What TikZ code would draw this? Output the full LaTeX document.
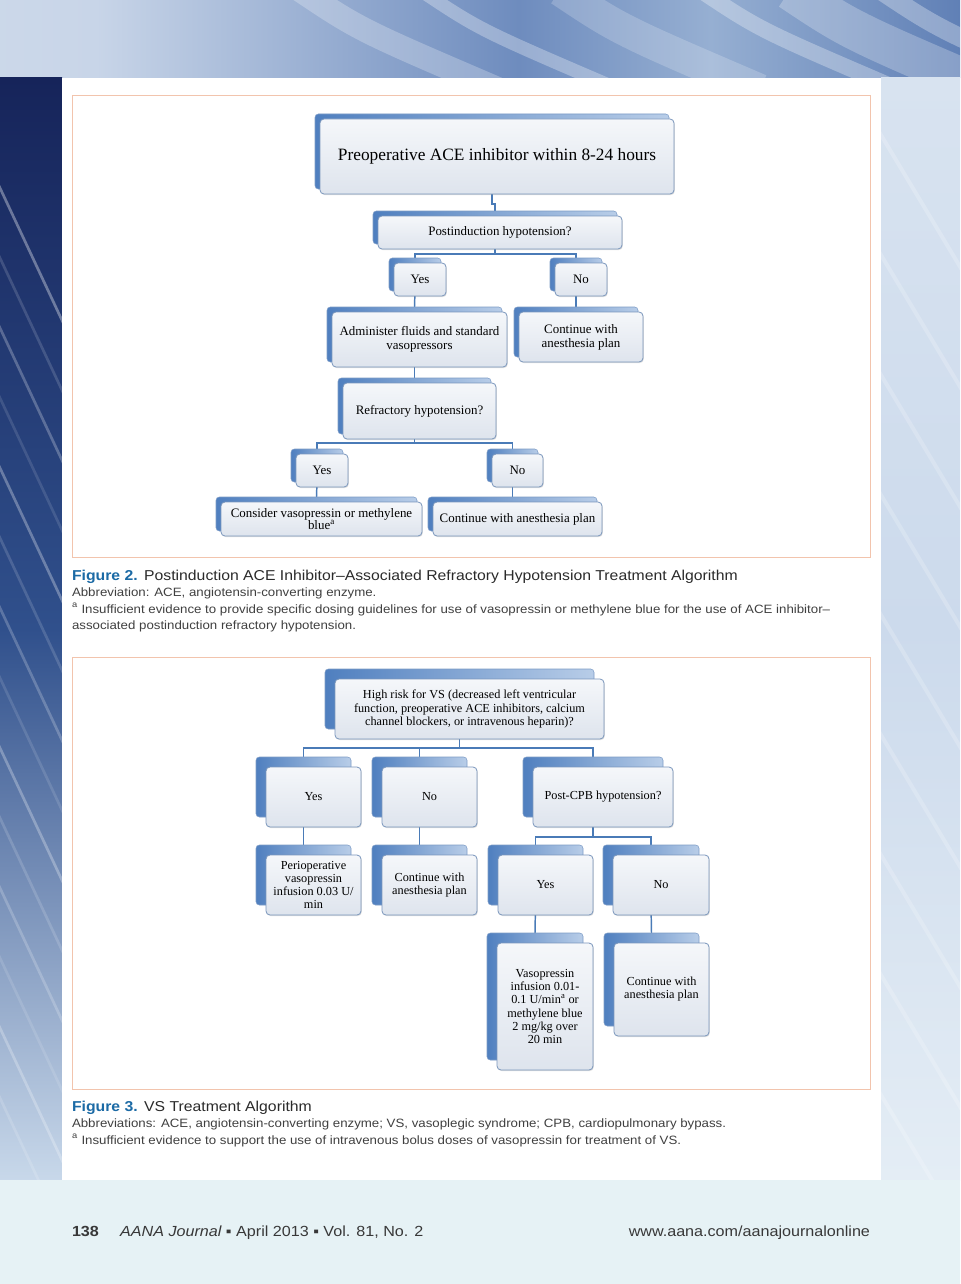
\documentclass[tikz,border=0pt]{standalone}
\usepackage{fontspec}
\setmainfont{Liberation Serif}
\newfontfamily\capsans[FakeStretch=1.1]{Liberation Sans}
\usetikzlibrary{shadows,calc}
\definecolor{connc}{HTML}{4A7BB7}
\definecolor{backL}{HTML}{4F7FBF}
\definecolor{backR}{HTML}{B8CDE8}
\definecolor{backD}{HTML}{7D9CC6}
\definecolor{frontT}{HTML}{F5F7FA}
\definecolor{frontB}{HTML}{DEE4ED}
\definecolor{frontD}{HTML}{7A96BC}
\definecolor{framec}{HTML}{F2C4AD}
\definecolor{figblue}{HTML}{1B6AA5}
\definecolor{captxt}{HTML}{2A2A2A}
\definecolor{smalltxt}{HTML}{404040}
\definecolor{foottxt}{HTML}{383838}
\definecolor{bgbase}{HTML}{D3E0EE}
\definecolor{bottomc}{HTML}{E6F2F5}
\definecolor{tbA}{HTML}{DCE5F0}
\definecolor{tbB}{HTML}{C8D5E8}
\definecolor{tbC}{HTML}{6E8CBE}
\definecolor{tbD}{HTML}{96AFD2}
\definecolor{tbE}{HTML}{6080B6}
\definecolor{tbF}{HTML}{AAC0DE}
\definecolor{tbG}{HTML}{D6E1EE}
\definecolor{lsA}{HTML}{16245A}
\definecolor{lsB}{HTML}{30508C}
\definecolor{lsC}{HTML}{C8D8EA}
\definecolor{rsA}{HTML}{D8E3F0}
\definecolor{rsB}{HTML}{CCDAEC}
\definecolor{rsC}{HTML}{E4EDF5}
\pgfdeclarehorizontalshading{topband}{100bp}{%
  color(0bp)=(tbA); color(30bp)=(tbB); color(52bp)=(tbC); color(62bp)=(tbD);
  color(75bp)=(tbE); color(88bp)=(tbF); color(100bp)=(tbG)}
\pgfdeclarelayer{pagebg}
\pgfdeclarelayer{conn}
\pgfsetlayers{pagebg,conn,main}
\newcommand\ftop{\fontsize{13}{14}\selectfont}
\newcommand\ftwo{\fontsize{9.7}{10.5}\selectfont}
\newcommand\fthree{\fontsize{9.2}{9.8}\selectfont}
\newcommand\stackbox[8]{%
  \node[backbox, minimum width={(#4-#2)*0.75pt}, minimum height={(#5-#3)*0.75pt}] (#1b) at ({(#2+#4)/2-#6},{(#3+#5)/2-#6}) {};
  \node[frontbox, #7, minimum width={(#4-#2)*0.75pt}, minimum height={(#5-#3)*0.75pt}] (#1) at ({(#2+#4)/2},{(#3+#5)/2}) {#8};
}
\tikzset{
  backbox/.style={rounded corners=2.5pt, left color=backL, right color=backR, draw=backD, line width=0.4pt, inner sep=0pt, outer sep=0pt},
  frontbox/.style={rounded corners=3pt, top color=frontT, bottom color=frontB, draw=frontD, line width=0.6pt, align=center, inner sep=1pt, outer sep=0pt, text=black, drop shadow={opacity=0.25, shadow xshift=0.6pt, shadow yshift=-0.8pt}},
  conn/.style={draw=connc, line width=1.1pt},
  capline/.style={anchor=base west, inner sep=0pt, outer sep=0pt, font=\capsans, text=captxt},
  smallline/.style={anchor=base west, inner sep=0pt, outer sep=0pt, font=\capsans\fontsize{9.05}{10}\selectfont, text=smalltxt},
  footline/.style={anchor=base west, inner sep=0pt, outer sep=0pt, font=\capsans\fontsize{11}{12}\selectfont, text=foottxt},
}
\begin{document}
\begin{tikzpicture}[x=0.75pt, y=-0.75pt]
\useasboundingbox (0,0) rectangle (960,1284);
% ---------- page background ----------
\begin{pgfonlayer}{pagebg}
\fill[bgbase] (0,0) rectangle (960,1284);
\shade[shading=topband] (0,0) rectangle (960,78);
\begin{scope}
\clip (0,0) rectangle (960,78);
\foreach \xa/\w/\o in {300/18/0.25,420/10/0.3,560/24/0.2,700/12/0.3,790/30/0.25,880/14/0.3}{
  \draw[white, opacity=\o, line width=\w pt] (\xa,-10) .. controls ({\xa+60},30) .. ({\xa+200},90);
}
\end{scope}
\shade[top color=lsA, bottom color=lsC, middle color=lsB] (0,78) rectangle (62,1180);
\begin{scope}
\clip (0,78) rectangle (62,1180);
\foreach \k/\o in {0/0.35,1/0.15,2/0.25,3/0.12,4/0.3,5/0.15,6/0.22,7/0.12,8/0.28,9/0.15,10/0.2,11/0.12,12/0.25,13/0.15}{
  \draw[white, opacity=\o, line width=2pt] ({-60},{60+\k*70}) -- ({90},{380+\k*70});
}
\end{scope}
\shade[top color=rsA, bottom color=rsC, middle color=rsB] (881,78) rectangle (960,1180);
\begin{scope}
\clip (881,78) rectangle (960,1180);
\foreach \k in {0,1,...,8}{
  \draw[white, opacity=0.2, line width=3pt] ({860},{100+\k*120}) -- ({980},{300+\k*120});
}
\end{scope}
\fill[bottomc] (0,1180) rectangle (960,1284);
\fill[white] (62,78) rectangle (881,1180);
\draw[framec, line width=0.7pt] (72,95) rectangle (870,557);
\draw[framec, line width=0.7pt] (72,657) rectangle (870,1089);
\end{pgfonlayer}
% ---------- Figure 2 boxes ----------
\stackbox{A}{320}{119}{674}{194}{5}{font=\ftop}{\raisebox{-2pt}{Preoperative ACE inhibitor within 8-24 hours}}
\stackbox{B}{378}{216}{622}{249}{5}{font=\ftwo}{Postinduction hypotension?}
\stackbox{Ya}{394}{263}{446}{296}{5}{font=\ftwo}{Yes}
\stackbox{Na}{555}{263}{607}{296}{5}{font=\ftwo}{No}
\stackbox{Adm}{332}{312}{507}{367}{5}{font=\ftwo}{Administer fluids and standard\\vasopressors}
\stackbox{Ca}{519}{312}{643}{362}{5}{font=\ftwo}{Continue with\\anesthesia plan}
\stackbox{Ref}{343}{383}{496}{439}{5}{font=\ftwo}{Refractory hypotension?}
\stackbox{Yb}{296}{454}{348}{487}{5}{font=\ftwo}{Yes}
\stackbox{Nb}{492}{454}{543}{487}{5}{font=\ftwo}{No}
\stackbox{Cons}{221}{502}{422}{536}{5}{font=\ftwo}{Consider vasopressin or methylene\\[-1pt]blue\textsuperscript{a}}
\stackbox{Cb}{433}{502}{602}{536}{5}{font=\ftwo}{Continue with anesthesia plan}
% ---------- Figure 3 boxes ----------
\stackbox{Hi}{335}{679}{604}{739}{10}{font=\fthree}{High risk for VS (decreased left ventricular\\function, preoperative ACE inhibitors, calcium\\channel blockers, or intravenous heparin)?}
\stackbox{Yc}{266}{767}{361}{827}{10}{font=\fthree}{Yes}
\stackbox{Nc}{382}{767}{477}{827}{10}{font=\fthree}{No}
\stackbox{PC}{533}{767}{673}{827}{10}{font=\fthree}{Post-CPB hypotension?}
\stackbox{Per}{266}{855}{361}{915}{10}{font=\fthree}{Perioperative\\vasopressin\\infusion 0.03 U/\\min}
\stackbox{Cc}{382}{855}{477}{915}{10}{font=\fthree}{Continue with\\anesthesia plan}
\stackbox{Yd}{498}{855}{593}{915}{10}{font=\fthree}{Yes}
\stackbox{Nd}{613}{855}{709}{915}{10}{font=\fthree}{No}
\stackbox{Vas}{497}{943}{593}{1070}{10}{font=\fthree}{Vasopressin\\infusion 0.01-\\0.1 U/min\textsuperscript{a} or\\methylene blue\\2 mg/kg over\\20 min}
\stackbox{Cd}{614}{943}{709}{1036}{10}{font=\fthree}{Continue with\\anesthesia plan}
% ---------- connectors ----------
\begin{pgfonlayer}{conn}
\draw[conn] (Ab.south) -- ++(0,15) -| (Bb.north);
\draw[conn] (Bb.south) -- ++(0,10) -| (Yab.north);
\draw[conn] (Bb.south) -- ++(0,10) -| (Nab.north);
\draw[conn] (Yab.south) -- (Admb.north);
\draw[conn] (Nab.south) -- (Cab.north);
\draw[conn] (Admb.south) -- (Refb.north);
\draw[conn] (Refb.south) -- ++(0,9) -| (Ybb.north);
\draw[conn] (Refb.south) -- ++(0,9) -| (Nbb.north);
\draw[conn] (Ybb.south) -- (Consb.north);
\draw[conn] (Nbb.south) -- (Cbb.north);
\draw[conn] (Hib.south) -- ++(0,19) -| (Ycb.north);
\draw[conn] (Hib.south) -- ++(0,19) -| (Ncb.north);
\draw[conn] (Hib.south) -- ++(0,19) -| (PCb.north);
\draw[conn] (Ycb.south) -- (Perb.north);
\draw[conn] (Ncb.south) -- (Ccb.north);
\draw[conn] (PCb.south) -- ++(0,20) -| (Ydb.north);
\draw[conn] (PCb.south) -- ++(0,20) -| (Ndb.north);
\draw[conn] (Ydb.south) -- (Vasb.north);
\draw[conn] (Ndb.south) -- (Cdb.north);
\end{pgfonlayer}
% ---------- captions ----------
\node[capline, font=\capsans\fontsize{10.75}{12}\selectfont] (cap2) at (72,580) {{\bfseries\color{figblue}Figure 2.}\hspace{0.45em}Postinduction ACE Inhibitor–Associated Refractory Hypotension Treatment Algorithm};
\node[smallline] (cap2a) at (72,596) {Abbreviation: ACE, angiotensin-converting enzyme.};
\node[smallline] (cap2b) at (72,613) {\textsuperscript{a} Insufficient evidence to provide specific dosing guidelines for use of vasopressin or methylene blue for the use of ACE inhibitor–};
\node[smallline] (cap2c) at (72,629) {associated postinduction refractory hypotension.};
\node[capline, font=\capsans\fontsize{10.75}{12}\selectfont] (cap3) at (72,1111) {{\bfseries\color{figblue}Figure 3.}\hspace{0.45em}VS Treatment Algorithm};
\node[smallline] (cap3a) at (72,1127) {Abbreviations: ACE, angiotensin-converting enzyme; VS, vasoplegic syndrome; CPB, cardiopulmonary bypass.};
\node[smallline] (cap3b) at (72,1144) {\textsuperscript{a} Insufficient evidence to support the use of intravenous bolus doses of vasopressin for treatment of VS.};
% ---------- footer ----------
\node[footline] (foot) at (72,1236) {{\bfseries 138}\hspace{1.45em}{\itshape AANA Journal} ▪ April 2013 ▪ Vol. 81, No. 2};
\node[footline, anchor=base east] (url) at (870,1236) {www.aana.com/aanajournalonline};
\end{tikzpicture}
\end{document}
